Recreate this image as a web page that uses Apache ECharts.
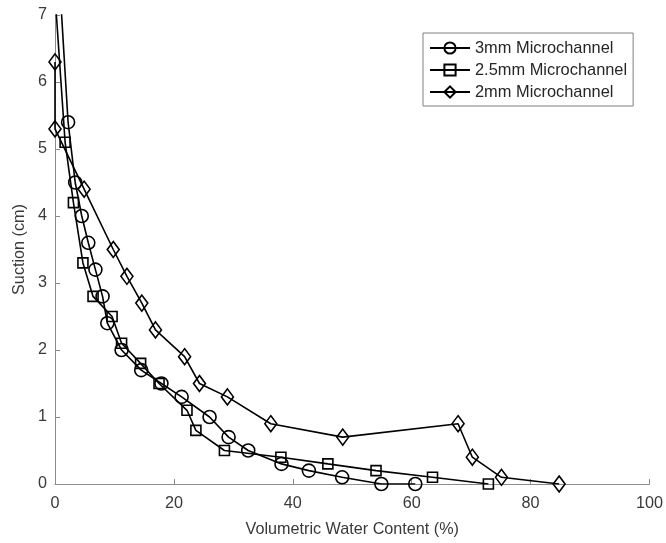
<!DOCTYPE html>
<html>
<head>
<meta charset="utf-8">
<script src="https://cdn.jsdelivr.net/npm/echarts@6/dist/echarts.min.js"></script>
<style>
html,body{margin:0;padding:0;background:#fff;}
#chart{width:666px;height:543px;}
</style>
</head>
<body>
<div id="chart"></div>
<script>
// Data
const seriesNames = ['3mm Microchannel', '2.5mm Microchannel', '2mm Microchannel'];

const x3mm = [0.5, 2.2, 3.4, 4.5, 5.6, 6.8, 8.0, 8.8, 11.2, 14.5, 17.9, 21.3, 26.0, 29.2, 32.5, 38.1, 42.7, 48.3, 54.9, 60.6];
const y3mm = [7.9, 5.4, 4.5, 4.0, 3.6, 3.2, 2.8, 2.4, 2.0, 1.7, 1.5, 1.3, 1.0, 0.7, 0.5, 0.3, 0.2, 0.1, 0.0, 0.0];

const x25mm = [0.0, 1.7, 3.1, 4.7, 6.4, 9.6, 11.2, 14.4, 17.5, 22.2, 23.7, 28.5, 38.0, 45.9, 54.0, 63.5, 72.9];
const y25mm = [7.3, 5.1, 4.2, 3.3, 2.8, 2.5, 2.1, 1.8, 1.5, 1.1, 0.8, 0.5, 0.4, 0.3, 0.2, 0.1, 0.0];

const x2mm = [0.0, 0.0, 4.9, 9.8, 12.1, 14.6, 16.9, 21.8, 24.3, 29.0, 36.3, 48.4, 67.8, 70.2, 75.1, 84.8];
const y2mm = [6.3, 5.3, 4.4, 3.5, 3.1, 2.7, 2.3, 1.9, 1.5, 1.3, 0.9, 0.7, 0.9, 0.4, 0.1, 0.0];

const xAxisMin = 0, xAxisMax = 100, xAxisStep = 20;
const yAxisMin = 0, yAxisMax = 7, yAxisStep = 1;
const xAxisTitle = 'Volumetric Water Content (%)';
const yAxisTitle = 'Suction (cm)';

function pairs(xs, ys) { return xs.map((x, i) => [x, ys[i]]); }

const FONT = "'Liberation Sans', Arial, Helvetica, sans-serif";
const TXT = '#3a3a3a';
const AXC = '#8c8c8c';

function mkSeries(name, data, symbol, size) {
  return {
    name: name,
    type: 'line',
    data: data,
    symbol: symbol,
    symbolSize: size,
    showSymbol: true,
    showAllSymbol: true,
    clip: true,
    lineStyle: { color: '#000', width: 1.6 },
    itemStyle: { color: 'rgba(0,0,0,0)', borderColor: '#000', borderWidth: 1.6 },
    emphasis: { disabled: true },
    animation: false
  };
}

const chart = echarts.init(document.getElementById('chart'), null, { renderer: 'canvas' });
chart.setOption({
  animation: false,
  backgroundColor: '#fff',
  grid: { left: 55, right: 14, top: 15, bottom: 57, containLabel: false },
  legend: {
    orient: 'vertical',
    left: 423,
    top: 33,
    padding: [7, 6, 6, 6],
    itemWidth: 40,
    itemHeight: 14,
    itemGap: 6,
    borderColor: '#808080',
    borderWidth: 1,
    backgroundColor: '#fff',
    textStyle: { fontFamily: FONT, fontSize: 16.4, color: '#262626', lineHeight: 16 },
    data: seriesNames
  },
  xAxis: {
    type: 'value',
    min: xAxisMin, max: xAxisMax, interval: xAxisStep,
    name: xAxisTitle,
    nameLocation: 'middle',
    nameGap: 38,
    nameTextStyle: { fontFamily: FONT, fontSize: 16.2, color: TXT },
    axisLine: { show: true, onZero: false, lineStyle: { color: AXC, width: 1 } },
    axisTick: { show: true, inside: true, length: 5, lineStyle: { color: AXC } },
    axisLabel: { fontFamily: FONT, fontSize: 16.2, color: TXT, margin: 12 },
    splitLine: { show: false }
  },
  yAxis: {
    type: 'value',
    min: yAxisMin, max: yAxisMax, interval: yAxisStep,
    name: yAxisTitle,
    nameLocation: 'middle',
    nameGap: 24,
    nameTextStyle: { fontFamily: FONT, fontSize: 16.2, color: TXT },
    axisLine: { show: true, onZero: false, lineStyle: { color: AXC, width: 1 } },
    axisTick: { show: true, inside: true, length: 5, lineStyle: { color: AXC } },
    axisLabel: { fontFamily: FONT, fontSize: 16.2, color: TXT, margin: 8 },
    splitLine: { show: false }
  },
  series: [
    mkSeries(seriesNames[0], pairs(x3mm, y3mm), 'circle', 13),
    mkSeries(seriesNames[1], pairs(x25mm, y25mm), 'rect', 10),
    mkSeries(seriesNames[2], pairs(x2mm, y2mm), 'diamond', [12, 16])
  ]
});
</script>
</body>
</html>
